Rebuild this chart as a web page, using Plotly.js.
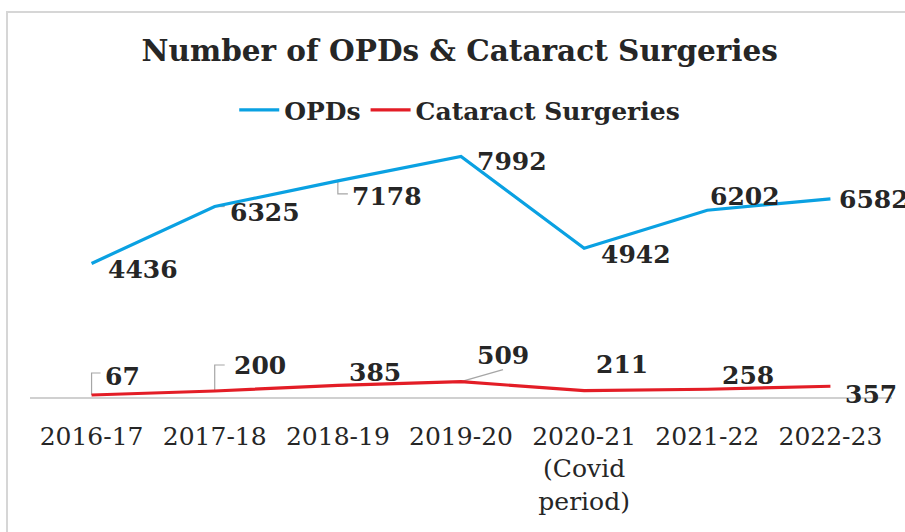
<!DOCTYPE html>
<html>
<head>
<meta charset="utf-8">
<script src="https://cdn.plot.ly/plotly-3.0.1.min.js"></script>
<style>
  html, body { margin: 0; padding: 0; background: #ffffff; }
  #frame { position: absolute; left: 6px; top: 11px; width: 905px; height: 530px;
           border-left: 2px solid #d6d6d6; border-top: 2px solid #d6d6d6; box-sizing: border-box; }
  #chart { position: absolute; left: 0; top: 0; width: 905px; height: 532px; }
</style>
</head>
<body>
<div id="frame"></div>
<div id="chart"></div>
<script>
// ---- data ----
const years = ["2016-17", "2017-18", "2018-19", "2019-20", "2020-21", "2021-22", "2022-23"];
const tickLabels = ["2016-17", "2017-18", "2018-19", "2019-20", "2020-21<br>(Covid<br>period)", "2021-22", "2022-23"];
const opds = [4436, 6325, 7178, 7992, 4942, 6202, 6582];
const cataract = [67, 200, 385, 509, 211, 258, 357];
const seriesNames = ["OPDs", "Cataract Surgeries"];

// ---- label placement (pixel offsets from each point; dy positive = down) ----
const opdOffsets = [[51, 6], [50, 6], [49, 16], [51, 5], [52, 6], [38, -14], [44, 1]];
const catOffsets = [[31, -18], [45, -25], [37, -13], [42, -26], [38, -26], [41, -14], [41, 8]];
// leader-line paths in pixels relative to the point (y positive = up), null = none
const opdLeaders = [null, "M0,0 L10,0", "M0,0 L0,-13 L10,-13", null, null, null, null];
const catLeaders = ["M0,0 L0,22 L9,22", "M0,0 L0,26 L10,26", null, "M0,0 L42,12", null, null, null];

const FONT = "DejaVu Serif, Liberation Serif, serif";
const TXT = "#262626";

function makeAnns(values, offsets) {
  return values.map((v, i) => {
    const [dx, dy] = offsets[i];
    return {
      x: years[i], y: v, xref: "x", yref: "y",
      text: "<b>" + v + "</b>",
      font: { family: FONT, size: 25, color: TXT },
      showarrow: false, xshift: dx, yshift: -dy
    };
  });
}
function makeLeaders(values, paths) {
  const out = [];
  values.forEach((v, i) => {
    if (!paths[i]) return;
    out.push({
      type: "path", xref: "x", yref: "y", xsizemode: "pixel", ysizemode: "pixel",
      xanchor: years[i], yanchor: v, path: paths[i],
      line: { color: "#a6a6a6", width: 1.2 }, layer: "below"
    });
  });
  return out;
}

const traces = [
  { x: years, y: opds, name: seriesNames[0], type: "scatter", mode: "lines",
    line: { color: "#0aa1e2", width: 3.2 }, hoverinfo: "skip" },
  { x: years, y: cataract, name: seriesNames[1], type: "scatter", mode: "lines",
    line: { color: "#e31d26", width: 3.2 }, hoverinfo: "skip" }
];

const layout = {
  width: 905, height: 532,
  paper_bgcolor: "rgba(0,0,0,0)", plot_bgcolor: "rgba(0,0,0,0)",
  margin: { l: 30, r: 13, t: 126, b: 135, autoexpand: false },
  title: { text: "<b>Number of OPDs & Cataract Surgeries</b>",
           font: { family: FONT, size: 29.5, color: TXT },
           x: 0.508, xanchor: "center", y: 0.905, yanchor: "middle" },
  showlegend: true,
  legend: { orientation: "h", x: 0.508, xanchor: "center", xref: "container",
            y: 0.793, yanchor: "middle", yref: "container",
            font: { family: FONT, size: 25, color: TXT, weight: "bold" }, itemwidth: 40, tracegroupgap: 0,
            bgcolor: "rgba(0,0,0,0)" },
  xaxis: {
    type: "category", range: [-0.5, 6.5], tickmode: "array", tickvals: years, ticktext: tickLabels,
    showgrid: false, zeroline: false, showline: true, linecolor: "#d0d0d0", linewidth: 1.5,
    ticks: "outside", ticklen: 16, tickcolor: "rgba(0,0,0,0)",
    tickfont: { family: FONT, size: 25, color: TXT }, fixedrange: true
  },
  yaxis: { range: [0, 9000], visible: false, showgrid: false, zeroline: false, fixedrange: true },
  shapes: makeLeaders(opds, opdLeaders).concat(makeLeaders(cataract, catLeaders)),
  annotations: makeAnns(opds, opdOffsets).concat(makeAnns(cataract, catOffsets))
};

Plotly.newPlot("chart", traces, layout, { displayModeBar: false, staticPlot: true });
</script>
</body>
</html>
